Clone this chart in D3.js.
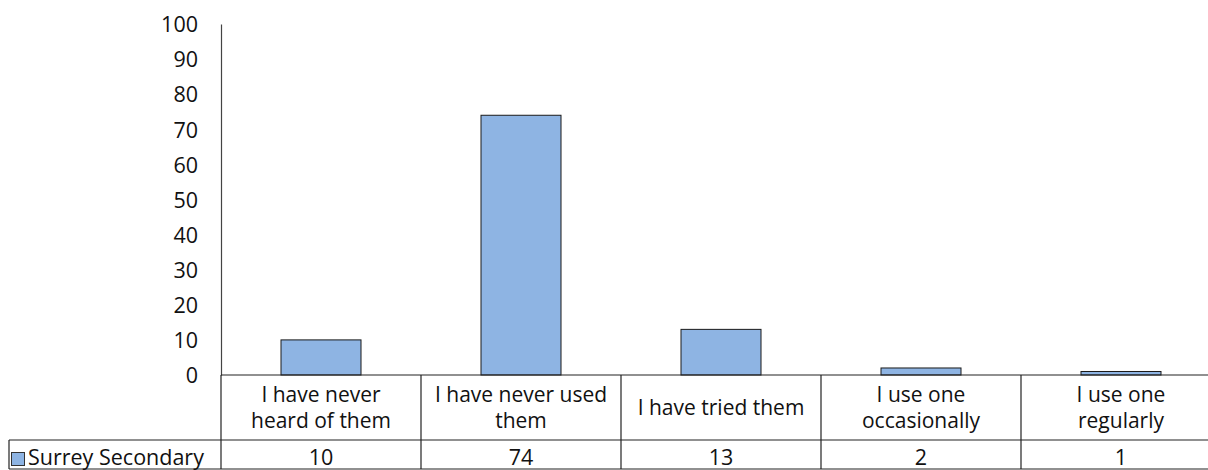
<!DOCTYPE html>
<html><head><meta charset="utf-8">
<script src="https://cdn.jsdelivr.net/npm/d3@7"></script>
<style>body{margin:0;background:#fff}svg{display:block}text{font-family:"Open Sans",Lato,sans-serif;fill:#111}</style>
</head><body><svg id="c" width="1208" height="470"></svg>
<script>
const categories = [["I have never","heard of them"],["I have never used","them"],["I have tried them"],["I use one","occasionally"],["I use one","regularly"]];
const seriesName = "Surrey Secondary";
const values = [10, 74, 13, 2, 1];
const yTicks = [0,10,20,30,40,50,60,70,80,90,100];

(function(){
const svg = d3.select("#c");
const left = 221, right = 1221, plotTop = 24, base = 375;
const x = d3.scaleBand().domain(d3.range(values.length)).range([left, right]).paddingInner(0).paddingOuter(0);
const y = d3.scaleLinear().domain([0, 100]).range([base, plotTop]);
const fs = 21.5, fsCat = 21;

const yAxis = d3.axisLeft(y).tickValues(yTicks).tickSize(0).tickPadding(23);
const ga = svg.append("g").attr("transform", `translate(${left},0)`).call(yAxis);
ga.select(".domain").attr("stroke", "#444").attr("stroke-width", 1.2);
ga.selectAll("text").style("font-size", fs + "px").attr("fill", "#111").attr("font-family","'Open Sans', Lato, sans-serif").attr("dy","0.36em");

const bw = 80;
svg.selectAll("rect.bar").data(values).join("rect").attr("class","bar")
  .attr("x", (d,i) => x(i) + (x.bandwidth()-bw)/2)
  .attr("y", d => y(d)).attr("width", bw).attr("height", d => base - y(d))
  .attr("fill", "#8EB4E3").attr("stroke", "#1a1a1a").attr("stroke-width", 1);

const rowTop = base, rowMid = 440, rowBot = 469, tableLeft = 9;
const ln = (x1,y1,x2,y2) => svg.append("line").attr("x1",x1).attr("y1",y1).attr("x2",x2).attr("y2",y2).attr("stroke","#222").attr("stroke-width",1.2);
ln(left, base, 1208, base);
ln(tableLeft, rowMid, 1208, rowMid);
ln(tableLeft, rowBot, 1208, rowBot);
ln(tableLeft, rowMid, tableLeft, rowBot);
d3.range(values.length).forEach(i => ln(x(i), rowTop, x(i), rowBot));

categories.forEach((lines, i) => {
  const cx = x(i) + x.bandwidth()/2;
  const n = lines.length;
  lines.forEach((t, j) => {
    svg.append("text").attr("x", cx).attr("y", 415 + (j - (n-1)/2) * 26)
      .attr("text-anchor", "middle").style("font-size", fsCat + "px").text(t);
  });
  svg.append("text").attr("x", cx).attr("y", 465)
    .attr("text-anchor","middle").style("font-size", fs+"px").text(values[i]);
});

svg.append("rect").attr("x", 11.5).attr("y", 452.5).attr("width", 13).attr("height", 13)
  .attr("fill","#8EB4E3").attr("stroke","#333").attr("stroke-width",1);
svg.append("text").attr("x", 28).attr("y", 465)
  .style("font-size", fs+"px").text(seriesName);
})();
</script></body></html>
